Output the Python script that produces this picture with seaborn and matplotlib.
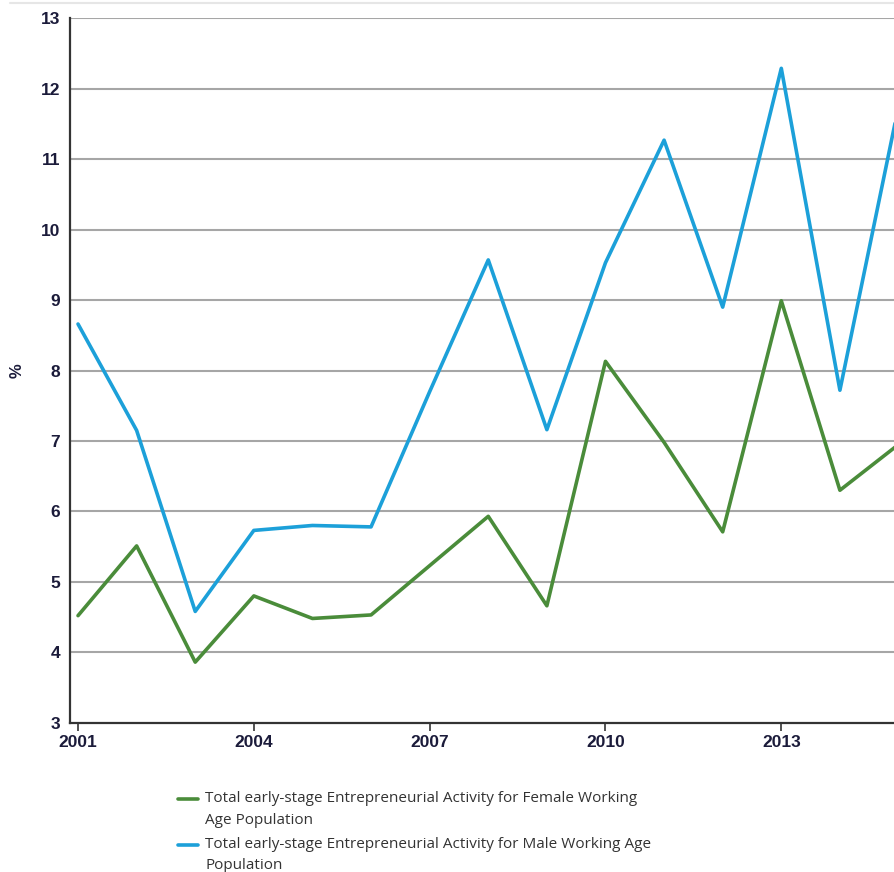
import matplotlib
matplotlib.use("Agg")
import matplotlib.pyplot as plt
from matplotlib.legend_handler import HandlerLine2D
import seaborn as sns
import pandas as pd

years = list(range(2001, 2016))
female = [4.52, 5.51, 3.86, 4.80, 4.48, 4.53, 5.23, 5.93, 4.66, 8.13, 6.98, 5.71, 8.99, 6.30, 6.95]
male = [8.66, 7.15, 4.58, 5.73, 5.80, 5.78, 7.70, 9.57, 7.16, 9.53, 11.27, 8.90, 12.29, 7.72, 11.75]
series_names = [
    "Total early-stage Entrepreneurial Activity for Female Working\nAge Population",
    "Total early-stage Entrepreneurial Activity for Male Working Age\nPopulation",
]
colors = ["#4a8c3a", "#1ca0d9"]
x_ticks = [2001, 2004, 2007, 2010, 2013]
y_ticks = list(range(3, 14))

df = pd.DataFrame({
    "Year": years * 2,
    "Value": female + male,
    "Series": [series_names[0]] * len(years) + [series_names[1]] * len(years),
})

sns.set_theme(style="white")
plt.rcParams["font.family"] = ["Open Sans", "DejaVu Sans"]

fig = plt.figure(figsize=(8.95, 8.72), dpi=100)
ax = fig.add_axes([0.0782, 0.1712, 0.9218, 0.8078])

sns.lineplot(data=df, x="Year", y="Value", hue="Series", hue_order=series_names,
             palette=colors, linewidth=2.6, ax=ax, legend=False)

ax.set_xlim(2000.863, 2014.94)
ax.set_ylim(3, 13)
ax.set_xticks(x_ticks)
ax.set_yticks(y_ticks)

tick_color = "#1b1b3a"
ax.set_xticklabels([str(t) for t in x_ticks], fontsize=12.5, fontweight="bold",
                   color=tick_color, family="Liberation Sans")
ax.set_yticklabels([str(t) for t in y_ticks], fontsize=12.5, fontweight="bold",
                   color=tick_color, family="Liberation Sans")
ax.tick_params(axis="x", which="both", direction="out", length=6, width=1.2,
               color="#333333", bottom=True, pad=3)
ax.tick_params(axis="y", which="both", length=0, pad=7)

for y in y_ticks[1:]:
    ax.axhline(y, color="#a6a6a6", linewidth=1.5, zorder=0)

for side in ["top", "right"]:
    ax.spines[side].set_visible(False)
for side in ["left", "bottom"]:
    ax.spines[side].set_color("#333333")
    ax.spines[side].set_linewidth(1.6)

ax.set_xlabel("")
ax.set_ylabel("%", fontsize=12, fontweight="bold", color=tick_color,
              family="Liberation Sans")
ax.yaxis.set_label_coords(-0.0545, 0.5)

# thin frame line across the top of the figure
fig.add_artist(plt.Line2D([0.011, 1.0], [0.9965, 0.9965], transform=fig.transFigure,
                          color="#e6e6e6", linewidth=1.5))


class FirstLineHandler(HandlerLine2D):
    """Legend line placed beside the first row of a two-row label."""

    def __init__(self, shift, **kw):
        super().__init__(**kw)
        self.shift = shift

    def create_artists(self, legend, orig_handle, xdescent, ydescent,
                       width, height, fontsize, trans):
        artists = super().create_artists(legend, orig_handle, xdescent, ydescent,
                                         width, height, fontsize, trans)
        for a in artists:
            a.set_ydata([y + self.shift for y in a.get_ydata()])
        return artists


handles = [plt.Line2D([], [], color=c, linewidth=2.6) for c in colors]
leg = fig.legend(handles, series_names, loc="upper left", bbox_to_anchor=(0.199, 0.093),
                 frameon=False, fontsize=11, handlelength=1.3, handletextpad=0.48,
                 labelspacing=0.6, borderaxespad=0, borderpad=0,
                 handler_map={h: FirstLineHandler(7.5) for h in handles})
for t in leg.get_texts():
    t.set_color("#333333")
    t.set_linespacing(1.6)

fig.savefig("out.png", dpi=100)
